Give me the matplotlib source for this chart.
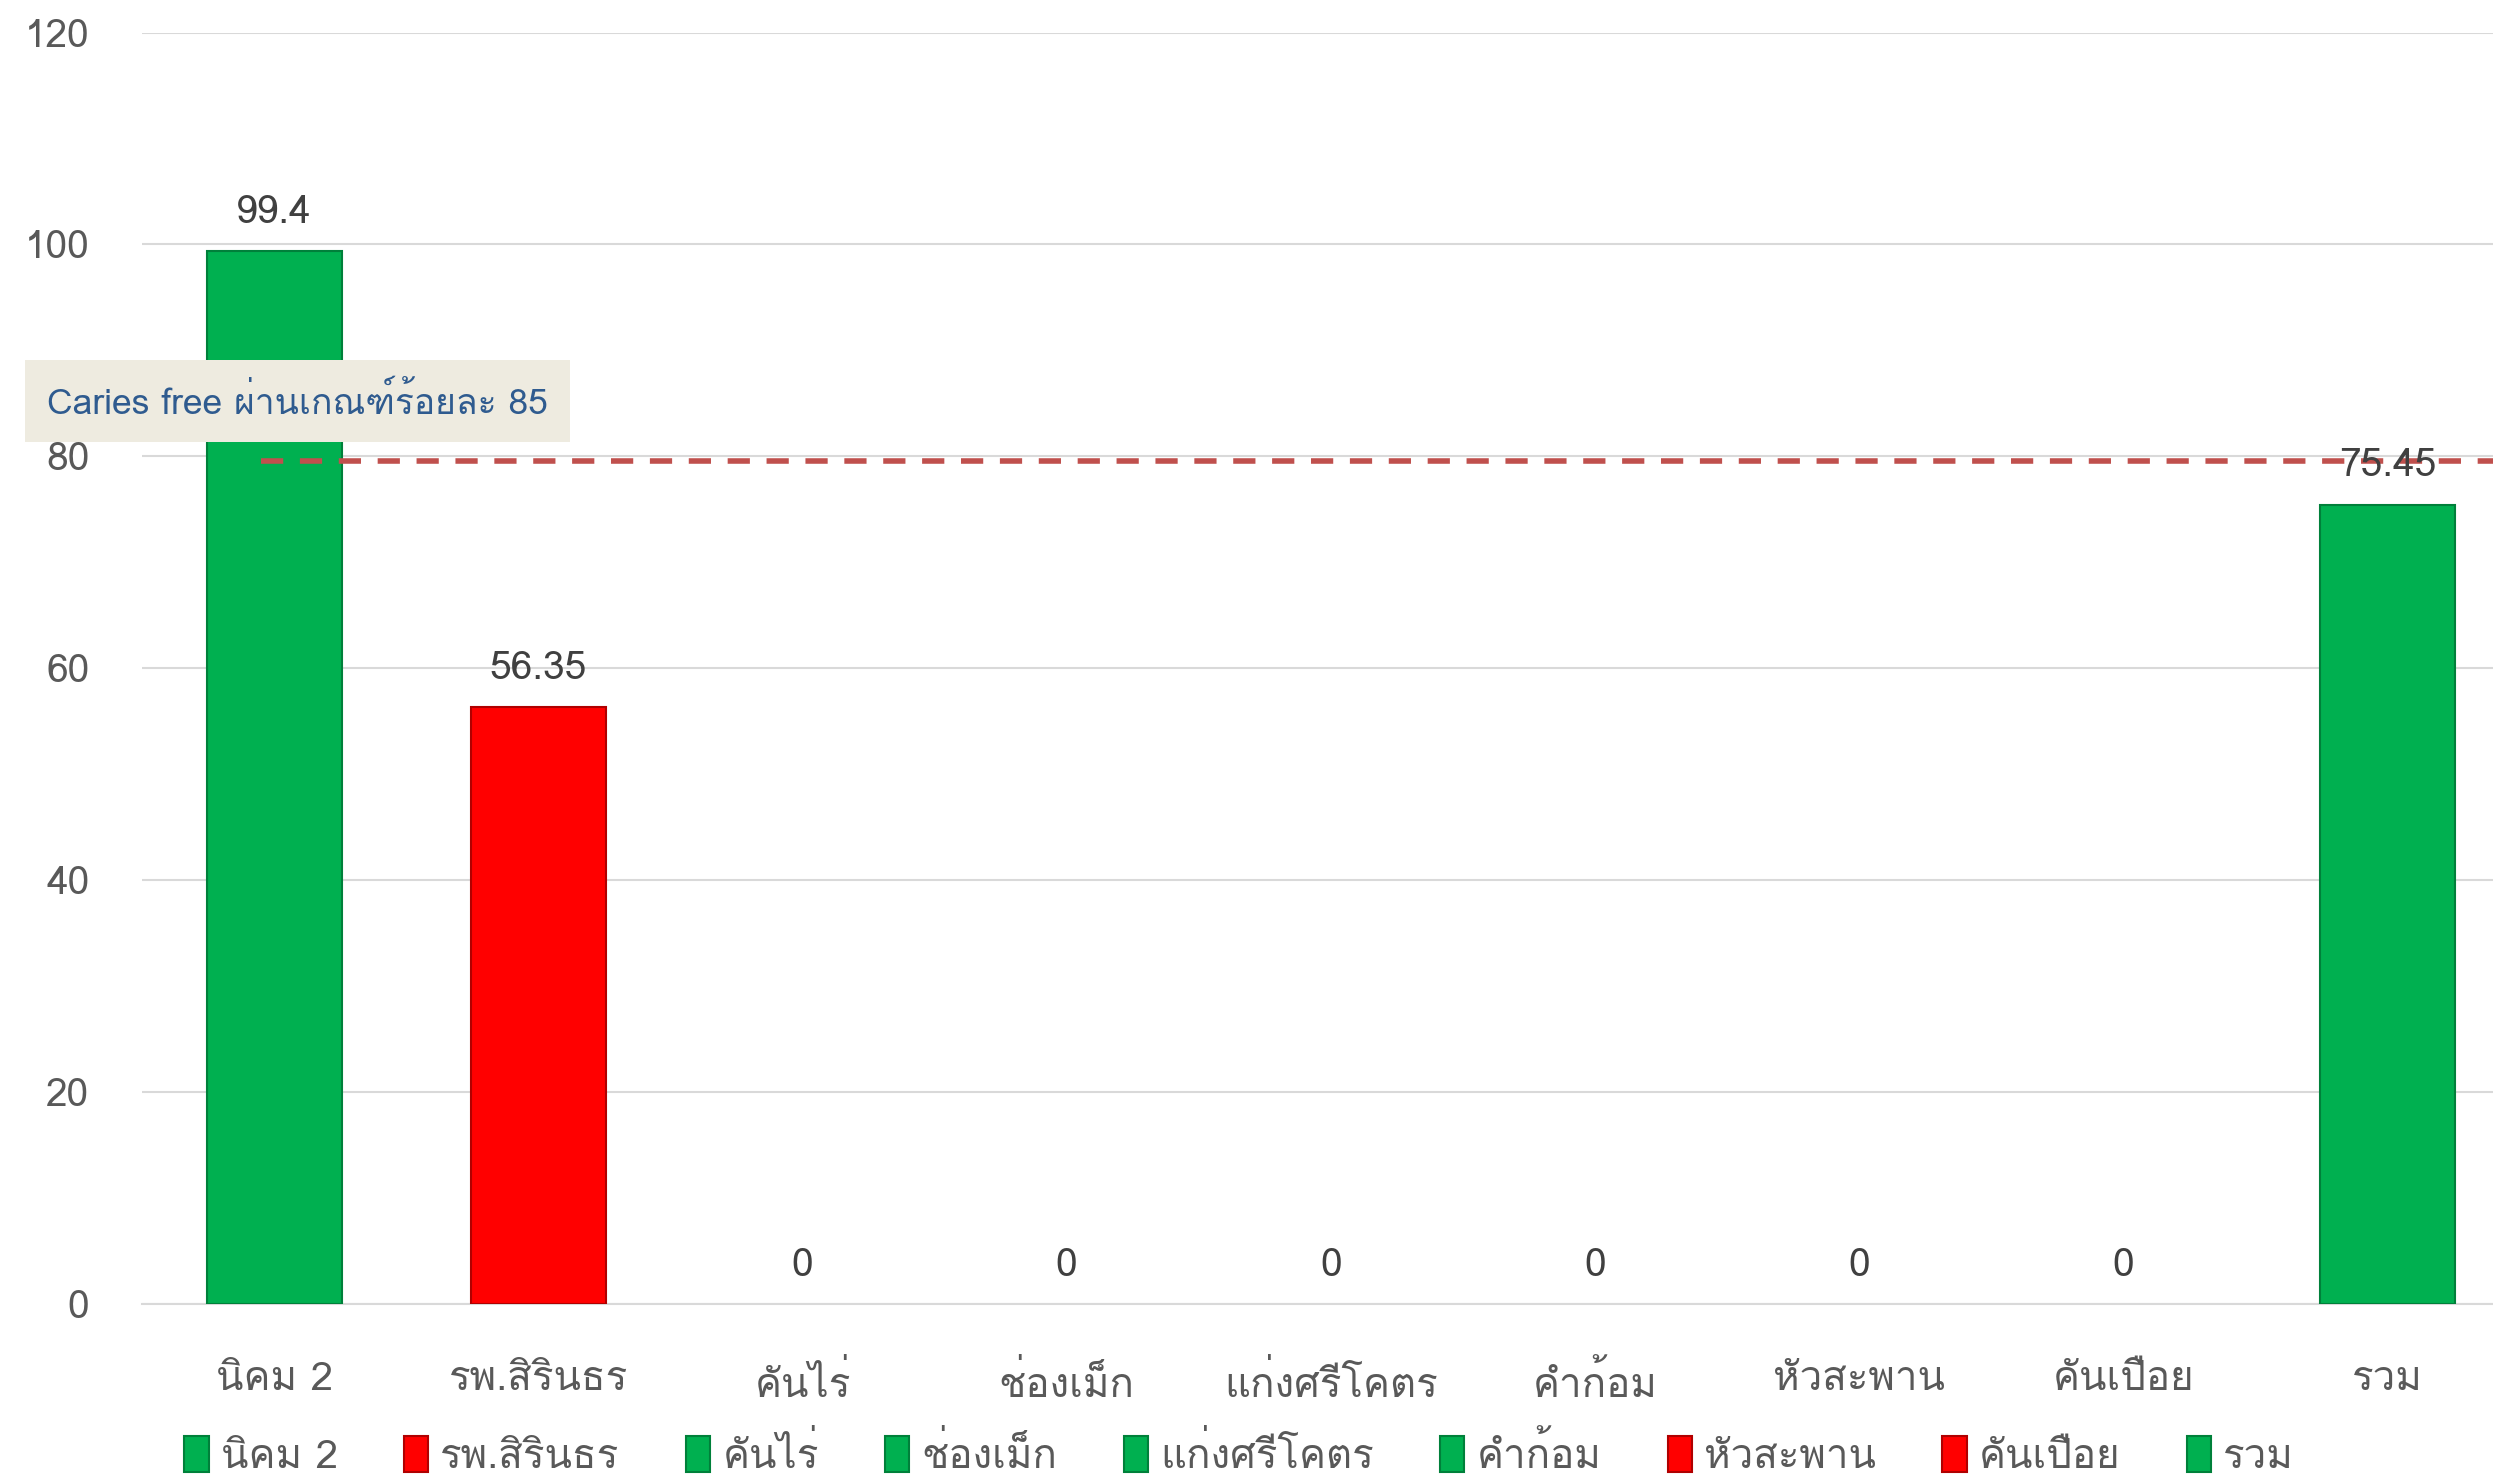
import matplotlib
matplotlib.use("Agg")
import matplotlib.pyplot as plt
from matplotlib import font_manager
from matplotlib.ft2font import FT2Font
from matplotlib.patches import Patch

# find an installed font that has Thai glyphs
thai_fonts = []
for f in font_manager.fontManager.ttflist:
    try:
        if 0x0E01 in FT2Font(f.fname).get_charmap():
            if f.name not in thai_fonts:
                thai_fonts.append(f.name)
    except Exception:
        pass
plt.rcParams['font.family'] = thai_fonts[:1] + ['DejaVu Sans']

categories = ["นิคม 2", "รพ.สิรินธร", "คันไร่", "ช่องเม็ก", "แก่งศรีโคตร",
              "คำก้อม", "หัวสะพาน", "คันเปือย", "รวม"]
values = [99.4, 56.35, 0, 0, 0, 0, 0, 0, 75.45]
passed = [True, False, True, True, True, True, False, False, True]
threshold = 79.6
note = "Caries free ผ่านเกณฑ์ร้อยละ 85"

green = "#00B050"
red = "#FF0000"
colors = [green if p else red for p in passed]
edges = ["#00803A" if p else "#B00000" for p in passed]
bar_edges = [e if v > 0 else "none" for e, v in zip(edges, values)]

fig = plt.figure(figsize=(24.93, 14.81), dpi=100)
ax = fig.add_axes([0.057, 0.1195, 0.943, 0.8585])

x = list(range(len(categories)))
ax.bar(x, values, width=0.51, color=colors, edgecolor=bar_edges, linewidth=1.5, zorder=3)
for xi, v in zip(x, values):
    lbl = "%g" % v
    ax.text(xi, v + 1.9, lbl, ha="center", va="bottom", fontsize=28, color="#404040", zorder=5)

ax.axhline(threshold, xmin=(0 - 0.05 + 0.5) / 8.9, xmax=1, color="#C0504D",
           linestyle=(0, (4, 3)), linewidth=4, zorder=4)

ax.set_xlim(-0.5, 8.4)
ax.set_ylim(0, 120)
ax.set_yticks(range(0, 121, 20))
ax.grid(axis="y", color="#D9D9D9", linewidth=1.5, zorder=0)
ax.set_axisbelow(True)
for s in ["top", "right", "left"]:
    ax.spines[s].set_visible(False)
ax.spines["bottom"].set_color("#D9D9D9")
ax.spines["bottom"].set_linewidth(1.5)
ax.tick_params(axis="y", length=0, pad=38, labelsize=28, labelcolor="#595959")
ax.tick_params(axis="x", length=0, pad=42, labelsize=29, labelcolor="#595959")
ax.set_xticks(x)
ax.set_xticklabels(categories)

fig.text(0.019, 0.729, note, fontsize=25.5, color="#2F5B8F", va="center", ha="left",
         bbox=dict(boxstyle="square,pad=0.62", facecolor="#EEEBE0", edgecolor="none"))

handles = [Patch(facecolor=c, edgecolor=e, linewidth=1.5) for c, e in zip(colors, edges)]
fig.legend(handles, categories, loc="center", bbox_to_anchor=(0.497, 0.018), ncol=9,
           frameon=False, fontsize=29, labelcolor="#595959", handlelength=0.6,
           handleheight=1.0, handletextpad=0.3, columnspacing=1.65)

fig.savefig("out.png", dpi=100)
